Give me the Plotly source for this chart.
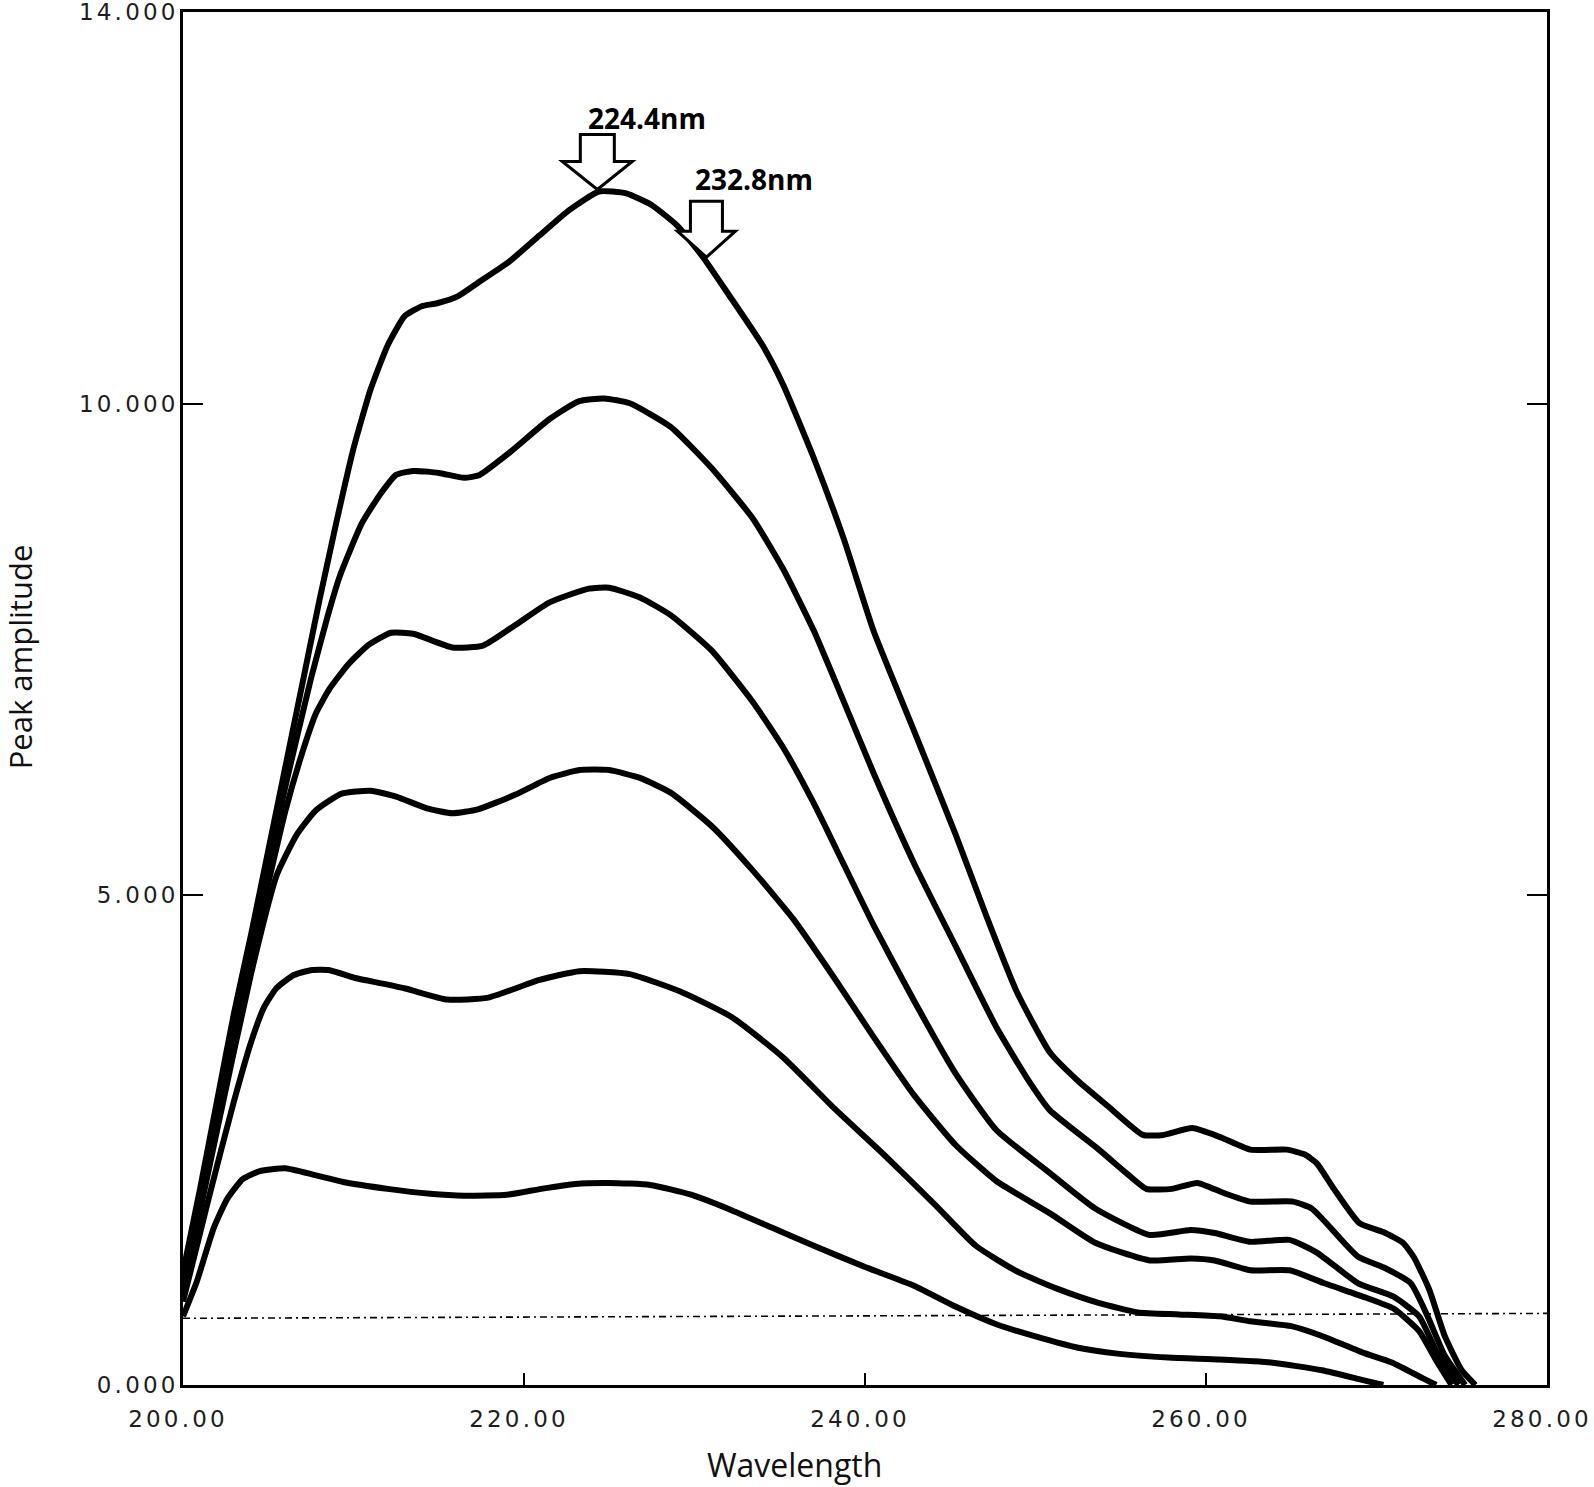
import plotly.graph_objects as go

# ---- axes ----
x_range = [200, 280]
y_range = [0, 14]
x_tickvals = [200, 220, 240, 260, 280]
x_ticktext = ["200.00", "220.00", "240.00", "260.00", "280.00"]
y_tickvals = [0, 5, 10, 14]
y_ticktext = ["0.000", "5.000", "10.000", "14.000"]
x_title = "Wavelength"
y_title = "Peak amplitude"

# ---- spectra ----
wl_1 = [200, 201, 202, 203, 204, 205, 206, 207, 208, 209, 210, 211, 212, 213, 214, 214.9, 216.1, 217.3, 219.1, 220.9,
        222.65, 224.4, 226, 227.5, 229, 230.5, 232, 234, 235.2, 237, 238.75, 240.5, 242.9, 245.3, 247.1, 248.9, 250.85,
        252.5, 254.2, 256.3, 257.5, 259.2, 260.8, 262.6, 264.75, 265.8, 266.5, 267.5, 269.0, 270.4, 271.55, 272.2,
        273.1, 274.0, 275.0, 275.8]
amp_1 = [1.15, 2.0, 2.9, 3.8, 4.6, 5.45, 6.3, 7.15, 8.0, 8.8, 9.55, 10.15, 10.6, 10.9, 11.0, 11.03, 11.1, 11.24, 11.45,
         11.72, 11.98, 12.17, 12.15, 12.03, 11.82, 11.5, 11.12, 10.6, 10.2, 9.45, 8.63, 7.69, 6.66, 5.62, 4.79, 4.01,
         3.39, 3.1, 2.85, 2.55, 2.55, 2.62, 2.53, 2.4, 2.4, 2.35, 2.26, 2.0, 1.65, 1.56, 1.45, 1.3, 0.97, 0.5, 0.15, 0.0]

wl_2 = [200, 202, 204, 206, 207.5, 208.5, 209.2, 210.5, 211.6, 212.5, 213.5, 215, 216.5, 217.4, 219.1, 221.5, 223.2,
        224.7, 226.2, 228.6, 231.0, 233.4, 235.2, 237.0, 238.75, 240.5, 242.9, 245.3, 247.7, 249.5, 250.85, 253.65,
        255.4, 256.5, 258, 259.5, 261.0, 262.6, 265.1, 266.2, 266.9, 268.9, 270.4, 272.0, 273.0, 274.0, 275.2]
amp_2 = [1.1, 2.8, 4.5, 6.1, 7.2, 7.85, 8.25, 8.79, 9.09, 9.28, 9.32, 9.3, 9.25, 9.28, 9.5, 9.85, 10.03, 10.06, 10.01,
         9.77, 9.35, 8.84, 8.32, 7.69, 6.97, 6.24, 5.31, 4.48, 3.65, 3.13, 2.8, 2.41, 2.15, 2.0, 2.0, 2.06, 1.96, 1.87,
         1.87, 1.8, 1.68, 1.31, 1.2, 1.04, 0.7, 0.3, 0.0]

wl_3 = [200, 202, 204, 206, 207, 207.8, 208.6, 209.7, 210.9, 212.2, 213.5, 215.8, 217.6, 219.5, 221.5, 223.8, 225,
        226.8, 228.6, 231.0, 233.4, 235.2, 237.0, 238.75, 240.5, 242.9, 245.3, 247.7, 250.85, 253.5, 256.7, 259.1,
        260.5, 262.6, 264.9, 266.5, 268.9, 271.0, 272.5, 273.5, 274.8]
amp_3 = [1.0, 2.7, 4.35, 5.85, 6.45, 6.85, 7.1, 7.35, 7.55, 7.67, 7.66, 7.52, 7.54, 7.75, 7.98, 8.12, 8.13, 8.03, 7.85,
         7.49, 6.97, 6.5, 5.93, 5.31, 4.69, 3.91, 3.18, 2.6, 2.16, 1.8, 1.53, 1.58, 1.55, 1.46, 1.48, 1.35, 1.04, 0.9,
         0.7, 0.35, 0.0]

wl_4 = [200, 202, 204, 205.5, 206.7, 207.8, 209.3, 211, 212.5, 214.3, 215.8, 217.3, 219.5, 221.5, 223.25, 225, 226.8,
        228.6, 231, 233.4, 235.8, 238.2, 240.5, 242.9, 245.3, 247.7, 250.85, 253.5, 256.7, 259.1, 260.5, 262.6, 264.9,
        266.9, 269.4, 271.0, 272.5, 273.5, 274.4]
amp_4 = [0.95, 2.6, 4.2, 5.2, 5.62, 5.86, 6.03, 6.06, 6.0, 5.88, 5.83, 5.87, 6.02, 6.19, 6.27, 6.27, 6.19, 6.04, 5.7,
         5.25, 4.75, 4.15, 3.55, 2.95, 2.45, 2.08, 1.75, 1.45, 1.27, 1.29, 1.27, 1.17, 1.17, 1.04, 0.89, 0.78, 0.55,
         0.25, 0.0]

wl_5 = [200, 201.5, 203, 204, 204.75, 205.5, 206.5, 207.5, 208.6, 210.1, 211.8, 213.1, 215.5, 217.9, 220.9, 223.25,
        226.2, 229.2, 232.2, 235.2, 238.2, 241.1, 244.1, 246.5, 248.9, 251.3, 253.65, 256.0, 258.4, 260.8, 262.6,
        265.0, 266.8, 269.2, 270.9, 272.7, 273.5]
amp_5 = [0.85, 1.9, 2.9, 3.5, 3.85, 4.05, 4.18, 4.23, 4.23, 4.15, 4.09, 4.04, 3.93, 3.95, 4.13, 4.22, 4.19, 4.01, 3.75,
         3.34, 2.82, 2.35, 1.84, 1.42, 1.16, 0.98, 0.84, 0.74, 0.72, 0.7, 0.65, 0.6, 0.5, 0.33, 0.23, 0.07, 0.0]

wl_6 = [200, 200.8, 201.8, 202.6, 203.5, 204.5, 206, 207.75, 209.4, 212, 214.5, 216.5, 219, 221, 223, 225, 227.4,
        229.8, 232.2, 234.6, 237.0, 239.9, 242.9, 245.3, 247.7, 250.1, 252.5, 254.8, 257.8, 260.8, 263.8, 266.8,
        269.2, 270.4]
amp_6 = [0.7, 1.05, 1.6, 1.9, 2.1, 2.18, 2.21, 2.14, 2.07, 2.0, 1.95, 1.93, 1.94, 2.0, 2.05, 2.06, 2.04, 1.94, 1.78,
         1.6, 1.42, 1.21, 1.01, 0.8, 0.62, 0.49, 0.38, 0.32, 0.28, 0.26, 0.23, 0.15, 0.05, 0.0]

# ---- dash-dot baseline ----
baseline_wl = [200, 280]
baseline_amp = [0.68, 0.73]

# ---- peak markers ----
peak_labels = ["224.4nm", "232.8nm"]
arrow_wl = [224.3, 230.7]
arrow_amp = [12.19, 11.5]

series = [(wl_1, amp_1), (wl_2, amp_2), (wl_3, amp_3), (wl_4, amp_4), (wl_5, amp_5), (wl_6, amp_6)]

fig = go.Figure()
fig.add_trace(go.Scatter(x=baseline_wl, y=baseline_amp, mode="lines",
                         line=dict(color="black", width=1.6, dash="7px,4px,2px,4px"),
                         showlegend=False, hoverinfo="skip"))
for wl, amp in series:
    fig.add_trace(go.Scatter(x=wl, y=amp, mode="lines",
                             line=dict(color="black", width=6, shape="spline", smoothing=0.5),
                             showlegend=False, cliponaxis=True))

arrow_paths = [
    "M0,0 L-35,28 L-17,28 L-17,55 L17,55 L17,28 L35,28 Z",
    "M0,0 L-29,26 L-16,26 L-16,56 L16,56 L16,26 L29,26 Z",
]
label_shifts = [(50, 72), (48, 78)]
for i in range(2):
    fig.add_shape(type="path", xref="x", yref="y", xsizemode="pixel", ysizemode="pixel",
                  xanchor=arrow_wl[i], yanchor=arrow_amp[i], path=arrow_paths[i],
                  line=dict(color="black", width=3), fillcolor="white", layer="above")
    fig.add_annotation(x=arrow_wl[i], y=arrow_amp[i], xref="x", yref="y",
                       xshift=label_shifts[i][0], yshift=label_shifts[i][1],
                       text="<b>%s</b>" % peak_labels[i], showarrow=False,
                       font=dict(family="Open Sans", size=28, color="black"),
                       xanchor="center", yanchor="middle")

# axis titles
fig.add_annotation(x=0.448, y=0, xref="paper", yref="paper", yshift=-79, text=x_title,
                   showarrow=False, xanchor="center", yanchor="middle",
                   font=dict(family="Open Sans", size=32, color="#111"))
fig.add_annotation(x=0, y=0.53, xref="paper", yref="paper", xshift=-163, text=y_title,
                   textangle=-90, showarrow=False, xanchor="center", yanchor="middle",
                   font=dict(family="Open Sans", size=31, color="#111"))

tickfont = dict(family="DejaVu Sans", size=23, color="#1e1e1e")
fig.update_layout(
    width=1594, height=1487,
    margin=dict(l=183, r=47, t=12, b=102, autoexpand=False),
    paper_bgcolor="white", plot_bgcolor="white",
    xaxis=dict(range=x_range, tickvals=x_tickvals, ticktext=x_ticktext, ticks="inside", ticklen=12,
               tickwidth=2, tickcolor="black", showline=True, linecolor="black", linewidth=2.5,
               mirror=True, showgrid=False, zeroline=False, tickfont=tickfont, ticklabelstandoff=12,
               ticklabelshift=-5, ticklabeloverflow="allow", automargin=False),
    yaxis=dict(range=y_range, tickvals=y_tickvals, ticktext=y_ticktext, ticks="inside", ticklen=20,
               tickwidth=2, tickcolor="black", showline=True, linecolor="black", linewidth=2.5,
               mirror="ticks", showgrid=False, zeroline=False, tickfont=tickfont, ticklabelstandoff=-3,
               ticklabeloverflow="allow", automargin=False),
)

post = ("document.body.style.margin='0';"
        "var s=document.createElement('style');"
        "s.innerHTML='.xtick text,.ytick text{letter-spacing:3.2px;}';"
        "document.head.appendChild(s);")
fig.write_html("out.html", post_script=post, config={"displayModeBar": False})
